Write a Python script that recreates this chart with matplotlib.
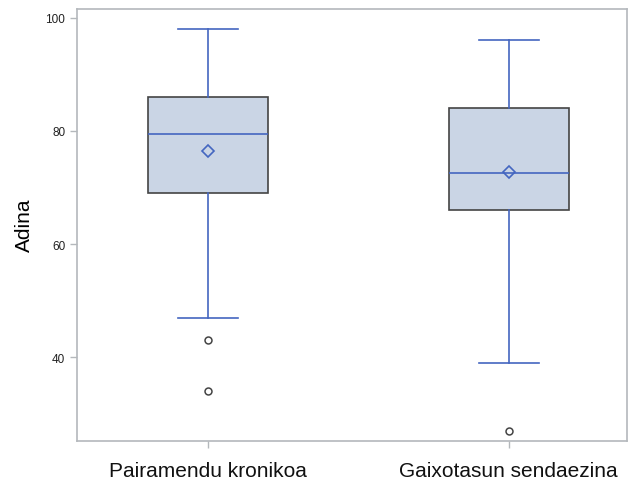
import matplotlib
matplotlib.use("Agg")
import matplotlib.pyplot as plt

plt.rcParams['font.family'] = ['Liberation Sans', 'DejaVu Sans']

# Box statistics
categories = ['Pairamendu kronikoa', 'Gaixotasun sendaezina']
q1 = [69.0, 66.0]
medians = [79.5, 72.5]
q3 = [86.0, 84.0]
means = [76.5, 72.8]
whisker_low = [47.0, 39.0]
whisker_high = [98.0, 96.0]
outliers = [[43.0, 34.0], [27.0]]
y_ticks = [40, 60, 80, 100]

blue = '#4466c0'
fill = '#cad5e5'
edge = '#444444'
spine = '#b4b8bc'

stats = []
for i, name in enumerate(categories):
    stats.append(dict(label=name, q1=q1[i], med=medians[i], q3=q3[i],
                      mean=means[i], whislo=whisker_low[i],
                      whishi=whisker_high[i], fliers=outliers[i]))

fig = plt.figure(figsize=(6.28, 4.81), dpi=100)
ax = fig.add_axes([0.1226, 0.082, 0.8754, 0.898])

ax.bxp(stats, positions=[1, 2], widths=0.4, patch_artist=True,
       showmeans=True, showfliers=True,
       boxprops=dict(facecolor=fill, edgecolor=edge, linewidth=1.2),
       medianprops=dict(color=blue, linewidth=1.2),
       whiskerprops=dict(color=blue, linewidth=1.2),
       capprops=dict(color=blue, linewidth=1.2),
       capwidths=0.2,
       meanprops=dict(marker='D', markerfacecolor='none',
                      markeredgecolor=blue, markersize=6.5,
                      markeredgewidth=1.2),
       flierprops=dict(marker='o', markerfacecolor='none',
                       markeredgecolor='#444444', markersize=5,
                       markeredgewidth=1.1))

ax.set_xlim(0.565, 2.392)
ax.set_ylim(25.3, 101.6)
ax.set_yticks(y_ticks)
ax.set_xticks([1, 2])
ax.set_xticklabels(categories, fontsize=15)
ax.set_ylabel('Adina', fontsize=15, labelpad=8)

for s in ax.spines.values():
    s.set_color(spine)
    s.set_linewidth(1.2)
ax.tick_params(axis='y', colors=spine, labelcolor='#222222', labelsize=8.5,
               length=5, width=1)
ax.tick_params(axis='x', colors=spine, labelcolor='#111111',
               length=5, width=1, pad=10)

fig.savefig('out.png', dpi=100)
